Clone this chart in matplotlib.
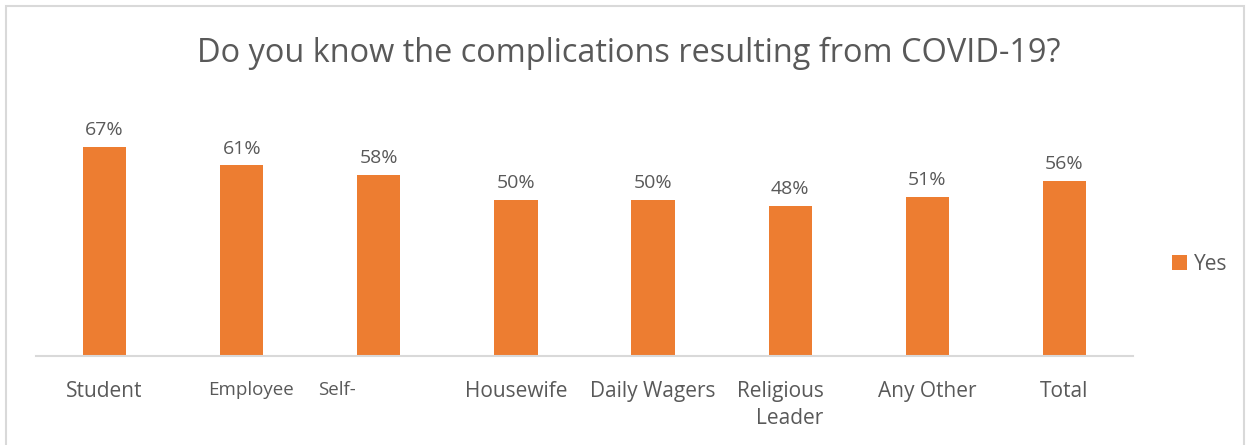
import matplotlib.pyplot as plt
from matplotlib.patches import Rectangle
from matplotlib.transforms import ScaledTranslation

# Daten
categories = ['Student', 'Employee', 'Self-', 'Housewife', 'Daily Wagers',
              'Religious\nLeader', 'Any Other', 'Total']
yes_values = [0.67, 0.61, 0.58, 0.50, 0.50, 0.48, 0.51, 0.56]
value_labels = ['67%', '61%', '58%', '50%', '50%', '48%', '51%', '56%']

orange = '#ED7D31'
grey_text = '#595959'

plt.rcParams['font.family'] = ['Open Sans', 'DejaVu Sans']

fig = plt.figure(figsize=(12.5, 4.45), dpi=100)
# Rahmen um das Diagramm
fig.patches.append(Rectangle((6 / 1250, -0.01), 1238 / 1250, 1 - 6 / 445 + 0.01,
                             transform=fig.transFigure, fill=False,
                             edgecolor='#D9D9D9', linewidth=1.5))

ax = fig.add_axes([36 / 1250, (445 - 356) / 445, (1133 - 36) / 1250, 250 / 445])
x = list(range(len(categories)))
bars = ax.bar(x, yes_values, width=0.315, color=orange, label='Yes')

for xi, v, lab in zip(x, yes_values, value_labels):
    ax.text(xi, v + 0.025, lab, ha='center', va='bottom', fontsize=14, color=grey_text)

ax.set_xlim(-0.5, len(categories) - 0.5)
ax.set_ylim(0, 0.8)
ax.set_yticks([])
ax.set_xticks(x)
ax.set_xticklabels(categories, fontsize=15, color=grey_text, linespacing=1.35)
ax.tick_params(axis='x', length=0, pad=18)
# kleinere / verschobene Beschriftungen wie im Original
shifts = {'Employee': 9, 'Self-': -42, 'Religious\nLeader': -10}
for i, t in enumerate(ax.get_xticklabels()):
    c = categories[i]
    if c in ('Employee', 'Self-'):
        t.set_fontsize(13.5)
    if c == 'Religious\nLeader':
        t.set_multialignment('right')
    if c in shifts:
        t.set_transform(t.get_transform() + ScaledTranslation(shifts[c] / 100, 0, fig.dpi_scale_trans))
for s in ['top', 'right', 'left']:
    ax.spines[s].set_visible(False)
ax.spines['bottom'].set_color('#D9D9D9')
ax.spines['bottom'].set_linewidth(1.5)

fig.text(0.503, (445 - 53) / 445, 'Do you know the complications resulting from COVID-19?',
         ha='center', va='center', fontsize=23.4, color=grey_text)

fig.legend(loc='center left', bbox_to_anchor=(1153 / 1250, (445 - 264) / 445),
           frameon=False, fontsize=15, labelcolor=grey_text,
           handlelength=0.75, handleheight=0.75, handletextpad=0.3)

plt.savefig('out.png', dpi=100)
